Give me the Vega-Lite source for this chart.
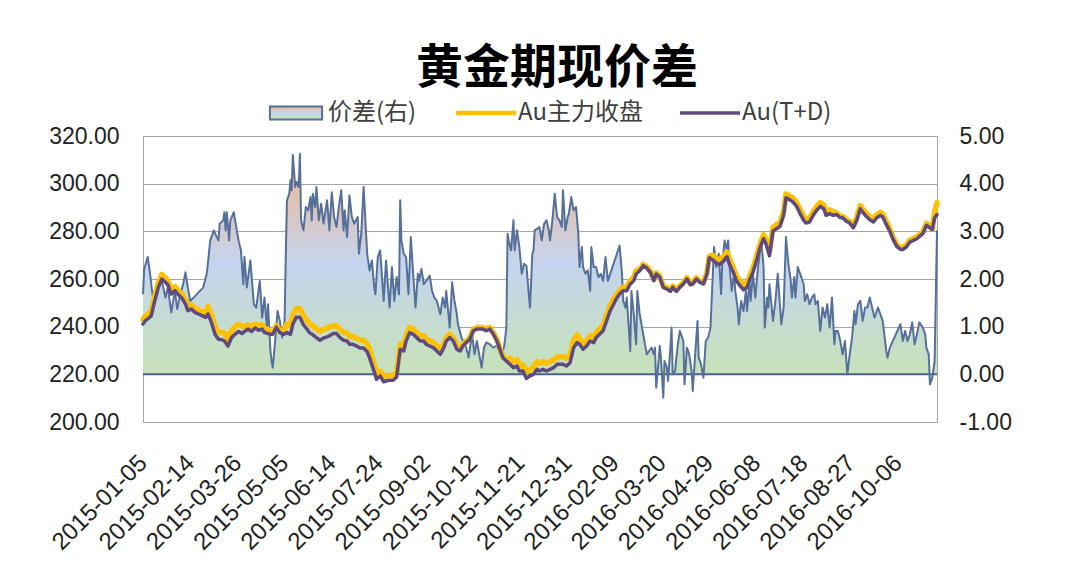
{
  "$schema": "https://vega.github.io/schema/vega-lite/v6.json",
  "autosize": {"type": "none"},
  "width": 794,
  "height": 286,
  "padding": {"left": 143, "top": 136, "right": 149, "bottom": 166},
  "background": "white",
  "config": {
    "view": {"stroke": "#a6a6a6", "strokeWidth": 1},
    "axis": {"labelFont": "Liberation Sans", "labelColor": "#222222", "labelFontSize": 23}
  },
  "title": {
    "text": "黄金期现价差",
    "font": "Noto Sans CJK SC",
    "fontSize": 47,
    "fontWeight": "bold",
    "color": "#000000",
    "anchor": "middle",
    "dx": 17,
    "offset": 8
  },
  "datasets": {
    "lines": [
      {"d":"2015-01-05","t":241.1,"f":243.0},{"d":"2015-01-07","t":242.5,"f":244.4},{"d":"2015-01-10","t":243.6,"f":245.5},{"d":"2015-01-12","t":244.6,"f":246.5},
      {"d":"2015-01-15","t":250.9,"f":252.8},{"d":"2015-01-18","t":256.5,"f":258.4},{"d":"2015-01-21","t":260.0,"f":261.9},{"d":"2015-01-24","t":258.6,"f":260.5},
      {"d":"2015-01-26","t":257.6,"f":259.3},{"d":"2015-01-29","t":253.7,"f":255.4},{"d":"2015-02-01","t":255.1,"f":256.8},{"d":"2015-02-04","t":253.4,"f":255.1},
      {"d":"2015-02-07","t":252.0,"f":253.7},{"d":"2015-02-10","t":249.5,"f":251.2},{"d":"2015-02-12","t":246.7,"f":248.4},{"d":"2015-02-15","t":247.4,"f":249.1},
      {"d":"2015-02-18","t":246.0,"f":247.7},{"d":"2015-02-21","t":245.3,"f":247.0},{"d":"2015-02-24","t":244.6,"f":246.3},{"d":"2015-02-27","t":243.9,"f":245.6},
      {"d":"2015-03-01","t":245.3,"f":248.4},{"d":"2015-03-04","t":241.8,"f":244.9},{"d":"2015-03-07","t":236.8,"f":239.9},{"d":"2015-03-10","t":234.7,"f":237.8},
      {"d":"2015-03-13","t":234.5,"f":237.6},{"d":"2015-03-15","t":234.0,"f":237.1},{"d":"2015-03-18","t":231.9,"f":235.0},{"d":"2015-03-21","t":235.4,"f":238.5},
      {"d":"2015-03-24","t":236.8,"f":239.9},{"d":"2015-03-27","t":238.0,"f":241.1},{"d":"2015-03-30","t":237.1,"f":240.2},{"d":"2015-04-01","t":238.0,"f":239.8},
      {"d":"2015-04-04","t":239.0,"f":240.8},{"d":"2015-04-07","t":238.0,"f":239.8},{"d":"2015-04-10","t":239.4,"f":241.2},{"d":"2015-04-13","t":238.5,"f":240.3},
      {"d":"2015-04-16","t":239.0,"f":240.8},{"d":"2015-04-18","t":237.5,"f":239.3},{"d":"2015-04-21","t":237.1,"f":238.9},{"d":"2015-04-23","t":236.8,"f":237.4},
      {"d":"2015-04-25","t":236.8,"f":237.4},{"d":"2015-04-28","t":239.7,"f":240.5},{"d":"2015-05-01","t":237.5,"f":238.3},{"d":"2015-05-04","t":236.8,"f":237.8},
      {"d":"2015-05-07","t":237.5,"f":241.2},{"d":"2015-05-10","t":236.8,"f":240.5},{"d":"2015-05-12","t":241.1,"f":244.8},{"d":"2015-05-15","t":243.9,"f":247.6},
      {"d":"2015-05-18","t":243.9,"f":247.6},{"d":"2015-05-21","t":240.8,"f":244.5},{"d":"2015-05-24","t":239.0,"f":242.7},{"d":"2015-05-26","t":237.5,"f":241.2},
      {"d":"2015-05-29","t":236.6,"f":240.3},{"d":"2015-06-01","t":235.4,"f":239.1},{"d":"2015-06-04","t":234.3,"f":238.0},{"d":"2015-06-07","t":235.2,"f":238.9},
      {"d":"2015-06-10","t":235.7,"f":239.4},{"d":"2015-06-12","t":236.1,"f":239.8},{"d":"2015-06-15","t":237.1,"f":240.4},{"d":"2015-06-18","t":237.1,"f":240.4},
      {"d":"2015-06-21","t":235.4,"f":238.7},{"d":"2015-06-24","t":234.3,"f":237.6},{"d":"2015-06-27","t":234.0,"f":237.3},{"d":"2015-06-29","t":232.6,"f":235.9},
      {"d":"2015-07-02","t":232.6,"f":235.9},{"d":"2015-07-05","t":231.9,"f":235.2},{"d":"2015-07-08","t":231.0,"f":234.3},{"d":"2015-07-11","t":231.0,"f":234.3},
      {"d":"2015-07-14","t":229.5,"f":232.8},{"d":"2015-07-16","t":227.0,"f":230.3},{"d":"2015-07-19","t":222.5,"f":225.8},{"d":"2015-07-22","t":217.9,"f":219.9},
      {"d":"2015-07-25","t":219.3,"f":221.3},{"d":"2015-07-28","t":216.9,"f":218.9},{"d":"2015-07-30","t":217.2,"f":219.2},{"d":"2015-08-02","t":217.5,"f":219.5},
      {"d":"2015-08-05","t":217.5,"f":219.5},{"d":"2015-08-08","t":218.9,"f":220.9},{"d":"2015-08-11","t":230.5,"f":232.7},{"d":"2015-08-14","t":229.8,"f":232.0},
      {"d":"2015-08-16","t":234.0,"f":236.2},{"d":"2015-08-19","t":237.5,"f":239.7},{"d":"2015-08-22","t":236.8,"f":239.0},{"d":"2015-08-25","t":235.4,"f":237.6},
      {"d":"2015-08-28","t":234.0,"f":236.2},{"d":"2015-08-31","t":234.0,"f":236.2},{"d":"2015-09-02","t":232.6,"f":234.8},{"d":"2015-09-05","t":231.9,"f":234.1},
      {"d":"2015-09-08","t":231.2,"f":233.4},{"d":"2015-09-11","t":229.8,"f":232.0},{"d":"2015-09-14","t":228.4,"f":229.8},{"d":"2015-09-17","t":231.2,"f":232.6},
      {"d":"2015-09-19","t":234.0,"f":235.4},{"d":"2015-09-22","t":235.4,"f":236.8},{"d":"2015-09-25","t":234.0,"f":235.4},{"d":"2015-09-28","t":230.5,"f":231.9},
      {"d":"2015-10-01","t":229.8,"f":231.2},{"d":"2015-10-03","t":231.9,"f":232.5},{"d":"2015-10-06","t":233.3,"f":233.9},{"d":"2015-10-09","t":234.7,"f":235.3},
      {"d":"2015-10-12","t":238.3,"f":238.9},{"d":"2015-10-15","t":239.0,"f":239.6},{"d":"2015-10-18","t":239.0,"f":239.6},{"d":"2015-10-20","t":239.0,"f":239.6},
      {"d":"2015-10-23","t":238.3,"f":238.9},{"d":"2015-10-26","t":239.0,"f":239.6},{"d":"2015-10-29","t":236.8,"f":237.4},{"d":"2015-11-01","t":234.0,"f":234.6},
      {"d":"2015-11-04","t":229.8,"f":230.4},{"d":"2015-11-06","t":227.0,"f":227.6},{"d":"2015-11-09","t":225.6,"f":226.2},{"d":"2015-11-12","t":224.2,"f":226.8},
      {"d":"2015-11-15","t":222.8,"f":225.4},{"d":"2015-11-18","t":223.5,"f":226.1},{"d":"2015-11-20","t":221.4,"f":224.0},{"d":"2015-11-23","t":221.4,"f":224.0},
      {"d":"2015-11-26","t":218.3,"f":220.9},{"d":"2015-11-29","t":219.3,"f":221.9},{"d":"2015-12-02","t":220.0,"f":223.2},{"d":"2015-12-05","t":222.1,"f":225.3},
      {"d":"2015-12-07","t":221.4,"f":224.6},{"d":"2015-12-10","t":222.1,"f":225.3},{"d":"2015-12-13","t":221.4,"f":224.6},{"d":"2015-12-16","t":222.1,"f":225.3},
      {"d":"2015-12-19","t":222.8,"f":226.0},{"d":"2015-12-22","t":224.2,"f":227.4},{"d":"2015-12-24","t":224.2,"f":227.4},{"d":"2015-12-27","t":224.2,"f":227.4},
      {"d":"2015-12-30","t":223.5,"f":226.7},{"d":"2016-01-02","t":224.9,"f":228.1},{"d":"2016-01-05","t":231.2,"f":234.4},{"d":"2016-01-08","t":233.3,"f":236.5},
      {"d":"2016-01-10","t":232.6,"f":234.8},{"d":"2016-01-13","t":230.5,"f":232.7},{"d":"2016-01-16","t":231.9,"f":234.1},{"d":"2016-01-19","t":234.0,"f":236.2},
      {"d":"2016-01-22","t":233.3,"f":235.5},{"d":"2016-01-24","t":235.4,"f":237.6},{"d":"2016-01-27","t":236.8,"f":239.0},{"d":"2016-01-30","t":238.3,"f":240.5},
      {"d":"2016-02-02","t":242.5,"f":244.7},{"d":"2016-02-05","t":246.7,"f":248.9},{"d":"2016-02-08","t":249.5,"f":251.7},{"d":"2016-02-10","t":251.6,"f":253.0},
      {"d":"2016-02-13","t":253.7,"f":255.1},{"d":"2016-02-16","t":255.1,"f":256.5},{"d":"2016-02-19","t":255.1,"f":256.5},{"d":"2016-02-22","t":257.9,"f":259.3},
      {"d":"2016-02-25","t":259.3,"f":260.7},{"d":"2016-02-27","t":262.1,"f":263.5},{"d":"2016-03-01","t":263.5,"f":264.0},{"d":"2016-03-04","t":265.6,"f":266.1},
      {"d":"2016-03-07","t":264.6,"f":265.1},{"d":"2016-03-10","t":262.8,"f":263.3},{"d":"2016-03-13","t":259.3,"f":259.8},{"d":"2016-03-15","t":262.1,"f":262.6},
      {"d":"2016-03-18","t":260.7,"f":261.2},{"d":"2016-03-21","t":256.5,"f":257.0},{"d":"2016-03-24","t":255.8,"f":256.3},{"d":"2016-03-27","t":254.8,"f":255.3},
      {"d":"2016-03-29","t":256.5,"f":257.0},{"d":"2016-04-01","t":254.8,"f":255.3},{"d":"2016-04-04","t":256.5,"f":257.0},{"d":"2016-04-07","t":257.9,"f":258.4},
      {"d":"2016-04-10","t":260.0,"f":260.5},{"d":"2016-04-13","t":257.6,"f":258.1},{"d":"2016-04-15","t":257.9,"f":258.4},{"d":"2016-04-18","t":260.0,"f":260.5},
      {"d":"2016-04-21","t":258.6,"f":259.1},{"d":"2016-04-24","t":257.9,"f":258.4},{"d":"2016-04-27","t":262.1,"f":262.6},{"d":"2016-04-29","t":268.9,"f":269.5},
      {"d":"2016-05-02","t":268.0,"f":270.0},{"d":"2016-05-05","t":266.6,"f":268.6},{"d":"2016-05-08","t":266.1,"f":268.1},{"d":"2016-05-11","t":267.5,"f":269.5},
      {"d":"2016-05-14","t":269.4,"f":271.4},{"d":"2016-05-16","t":266.3,"f":268.3},{"d":"2016-05-19","t":263.2,"f":265.2},{"d":"2016-05-22","t":259.3,"f":261.3},
      {"d":"2016-05-25","t":257.2,"f":259.2},{"d":"2016-05-28","t":255.4,"f":257.4},{"d":"2016-05-31","t":256.5,"f":258.5},{"d":"2016-06-02","t":259.3,"f":260.9},
      {"d":"2016-06-05","t":262.8,"f":264.4},{"d":"2016-06-08","t":267.7,"f":269.3},{"d":"2016-06-11","t":273.1,"f":274.7},{"d":"2016-06-14","t":276.9,"f":278.5},
      {"d":"2016-06-16","t":274.8,"f":276.4},{"d":"2016-06-19","t":269.8,"f":271.4},{"d":"2016-06-22","t":280.1,"f":281.7},{"d":"2016-06-25","t":281.1,"f":282.7},
      {"d":"2016-06-28","t":282.1,"f":283.7},{"d":"2016-07-01","t":286.7,"f":288.3},{"d":"2016-07-03","t":294.1,"f":295.7},{"d":"2016-07-06","t":293.3,"f":294.9},
      {"d":"2016-07-09","t":292.3,"f":293.9},{"d":"2016-07-12","t":290.5,"f":292.1},{"d":"2016-07-15","t":287.4,"f":289.0},{"d":"2016-07-18","t":284.6,"f":286.2},
      {"d":"2016-07-20","t":283.5,"f":285.1},{"d":"2016-07-23","t":283.9,"f":285.5},{"d":"2016-07-26","t":286.7,"f":288.3},{"d":"2016-07-29","t":288.8,"f":290.4},
      {"d":"2016-08-01","t":290.5,"f":292.1},{"d":"2016-08-04","t":289.5,"f":291.1},{"d":"2016-08-06","t":286.7,"f":288.3},{"d":"2016-08-09","t":287.4,"f":289.0},
      {"d":"2016-08-12","t":286.7,"f":288.3},{"d":"2016-08-15","t":287.1,"f":287.7},{"d":"2016-08-18","t":285.7,"f":286.3},{"d":"2016-08-20","t":285.7,"f":286.3},
      {"d":"2016-08-23","t":284.3,"f":284.9},{"d":"2016-08-26","t":283.5,"f":284.1},{"d":"2016-08-29","t":281.5,"f":282.1},{"d":"2016-09-01","t":284.6,"f":285.9},
      {"d":"2016-09-04","t":289.5,"f":290.8},{"d":"2016-09-06","t":288.1,"f":289.4},{"d":"2016-09-09","t":286.3,"f":287.6},{"d":"2016-09-12","t":284.9,"f":286.2},
      {"d":"2016-09-15","t":283.9,"f":285.2},{"d":"2016-09-18","t":285.7,"f":287.0},{"d":"2016-09-21","t":286.7,"f":288.0},{"d":"2016-09-23","t":286.0,"f":287.3},
      {"d":"2016-09-26","t":282.9,"f":284.2},{"d":"2016-09-29","t":280.1,"f":280.9},{"d":"2016-10-02","t":276.4,"f":277.2},{"d":"2016-10-05","t":273.6,"f":274.4},
      {"d":"2016-10-08","t":272.4,"f":273.2},{"d":"2016-10-10","t":272.4,"f":273.2},{"d":"2016-10-13","t":273.4,"f":274.2},{"d":"2016-10-16","t":275.5,"f":276.3},
      {"d":"2016-10-19","t":276.2,"f":277.0},{"d":"2016-10-22","t":276.9,"f":277.7},{"d":"2016-10-24","t":277.8,"f":278.6},{"d":"2016-10-27","t":279.0,"f":279.8},
      {"d":"2016-10-30","t":282.5,"f":283.3},{"d":"2016-11-02","t":281.5,"f":281.8},{"d":"2016-11-04","t":280.7,"f":281.0},{"d":"2016-11-06","t":285.7,"f":288.0},
      {"d":"2016-11-08","t":287.0,"f":292.0}
    ],
    "spread": [
      {"d":"2015-01-05","s":1.68},{"d":"2015-01-06","s":2.21},{"d":"2015-01-09","s":2.46},{"d":"2015-01-11","s":2.11},{"d":"2015-01-13","s":1.68},
      {"d":"2015-01-15","s":1.54},{"d":"2015-01-18","s":1.82},{"d":"2015-01-21","s":1.96},{"d":"2015-01-24","s":1.61},{"d":"2015-01-26","s":1.82},
      {"d":"2015-01-29","s":1.30},{"d":"2015-02-01","s":1.75},{"d":"2015-02-03","s":1.37},{"d":"2015-02-05","s":1.61},{"d":"2015-02-08","s":1.89},
      {"d":"2015-02-10","s":2.14},{"d":"2015-02-12","s":1.82},{"d":"2015-02-14","s":1.54},{"d":"2015-02-17","s":1.61},{"d":"2015-02-21","s":1.72},
      {"d":"2015-02-25","s":1.82},{"d":"2015-02-28","s":2.11},{"d":"2015-03-01","s":2.32},{"d":"2015-03-03","s":2.81},{"d":"2015-03-06","s":3.02},
      {"d":"2015-03-08","s":2.91},{"d":"2015-03-10","s":2.81},{"d":"2015-03-11","s":3.16},{"d":"2015-03-14","s":3.23},{"d":"2015-03-15","s":3.40},
      {"d":"2015-03-16","s":3.02},{"d":"2015-03-17","s":3.40},{"d":"2015-03-19","s":2.81},{"d":"2015-03-20","s":3.23},{"d":"2015-03-23","s":3.40},
      {"d":"2015-03-25","s":3.09},{"d":"2015-03-27","s":2.81},{"d":"2015-03-29","s":2.60},{"d":"2015-03-31","s":1.89},{"d":"2015-04-01","s":2.46},
      {"d":"2015-04-03","s":1.82},{"d":"2015-04-06","s":2.39},{"d":"2015-04-09","s":1.47},{"d":"2015-04-11","s":1.40},{"d":"2015-04-14","s":1.96},
      {"d":"2015-04-16","s":1.19},{"d":"2015-04-18","s":1.61},{"d":"2015-04-20","s":0.98},{"d":"2015-04-21","s":1.47},{"d":"2015-04-23","s":0.49},
      {"d":"2015-04-24","s":0.28},{"d":"2015-04-25","s":0.14},{"d":"2015-04-28","s":0.98},{"d":"2015-04-29","s":1.33},{"d":"2015-05-01","s":1.12},
      {"d":"2015-05-03","s":0.77},{"d":"2015-05-05","s":1.12},{"d":"2015-05-06","s":2.46},{"d":"2015-05-07","s":3.65},{"d":"2015-05-09","s":3.79},
      {"d":"2015-05-10","s":4.07},{"d":"2015-05-11","s":3.86},{"d":"2015-05-12","s":4.60},{"d":"2015-05-14","s":3.93},{"d":"2015-05-15","s":4.04},
      {"d":"2015-05-17","s":3.93},{"d":"2015-05-18","s":4.63},{"d":"2015-05-19","s":3.23},{"d":"2015-05-21","s":3.02},{"d":"2015-05-23","s":3.51},
      {"d":"2015-05-25","s":3.44},{"d":"2015-05-27","s":3.72},{"d":"2015-05-28","s":3.23},{"d":"2015-05-29","s":3.79},{"d":"2015-05-31","s":3.51},
      {"d":"2015-06-01","s":3.93},{"d":"2015-06-03","s":3.23},{"d":"2015-06-05","s":3.58},{"d":"2015-06-07","s":3.16},{"d":"2015-06-10","s":3.65},
      {"d":"2015-06-12","s":3.02},{"d":"2015-06-14","s":3.82},{"d":"2015-06-16","s":3.30},{"d":"2015-06-18","s":3.09},{"d":"2015-06-20","s":3.51},
      {"d":"2015-06-22","s":3.86},{"d":"2015-06-24","s":3.02},{"d":"2015-06-25","s":3.44},{"d":"2015-06-27","s":2.88},{"d":"2015-06-29","s":3.75},
      {"d":"2015-07-01","s":3.30},{"d":"2015-07-03","s":3.16},{"d":"2015-07-06","s":3.30},{"d":"2015-07-07","s":2.53},{"d":"2015-07-09","s":2.95},
      {"d":"2015-07-11","s":3.93},{"d":"2015-07-14","s":2.53},{"d":"2015-07-16","s":2.18},{"d":"2015-07-18","s":2.39},{"d":"2015-07-20","s":1.82},
      {"d":"2015-07-21","s":1.68},{"d":"2015-07-23","s":2.46},{"d":"2015-07-25","s":2.60},{"d":"2015-07-28","s":1.54},{"d":"2015-07-30","s":2.39},
      {"d":"2015-08-02","s":1.40},{"d":"2015-08-04","s":2.25},{"d":"2015-08-06","s":1.54},{"d":"2015-08-08","s":2.04},{"d":"2015-08-10","s":1.68},
      {"d":"2015-08-11","s":3.65},{"d":"2015-08-12","s":2.81},{"d":"2015-08-14","s":2.53},{"d":"2015-08-16","s":2.46},{"d":"2015-08-18","s":1.68},
      {"d":"2015-08-20","s":2.88},{"d":"2015-08-22","s":2.11},{"d":"2015-08-24","s":1.40},{"d":"2015-08-26","s":2.11},{"d":"2015-08-27","s":1.96},
      {"d":"2015-08-29","s":2.21},{"d":"2015-08-31","s":1.89},{"d":"2015-09-02","s":1.96},{"d":"2015-09-05","s":2.07},{"d":"2015-09-07","s":1.75},
      {"d":"2015-09-09","s":1.61},{"d":"2015-09-11","s":1.54},{"d":"2015-09-14","s":1.26},{"d":"2015-09-16","s":1.61},{"d":"2015-09-18","s":1.40},
      {"d":"2015-09-19","s":1.75},{"d":"2015-09-22","s":0.98},{"d":"2015-09-24","s":1.93},{"d":"2015-09-26","s":1.54},{"d":"2015-09-28","s":1.26},
      {"d":"2015-09-29","s":1.05},{"d":"2015-10-02","s":0.77},{"d":"2015-10-06","s":0.56},{"d":"2015-10-08","s":0.35},{"d":"2015-10-10","s":0.70},
      {"d":"2015-10-11","s":0.84},{"d":"2015-10-13","s":0.42},{"d":"2015-10-15","s":0.70},{"d":"2015-10-18","s":0.28},{"d":"2015-10-19","s":0.14},
      {"d":"2015-10-21","s":0.56},{"d":"2015-10-23","s":0.67},{"d":"2015-10-26","s":0.63},{"d":"2015-10-29","s":0.56},{"d":"2015-11-01","s":0.60},
      {"d":"2015-11-04","s":0.42},{"d":"2015-11-07","s":0.56},{"d":"2015-11-09","s":0.98},{"d":"2015-11-10","s":2.95},{"d":"2015-11-11","s":2.81},
      {"d":"2015-11-13","s":2.60},{"d":"2015-11-15","s":3.23},{"d":"2015-11-16","s":2.60},{"d":"2015-11-18","s":3.02},{"d":"2015-11-20","s":2.67},
      {"d":"2015-11-22","s":2.11},{"d":"2015-11-24","s":2.32},{"d":"2015-11-26","s":2.28},{"d":"2015-11-28","s":1.68},{"d":"2015-11-29","s":1.40},
      {"d":"2015-12-01","s":2.53},{"d":"2015-12-02","s":2.60},{"d":"2015-12-03","s":3.02},{"d":"2015-12-05","s":3.05},{"d":"2015-12-07","s":3.09},
      {"d":"2015-12-09","s":2.81},{"d":"2015-12-11","s":3.16},{"d":"2015-12-13","s":3.23},{"d":"2015-12-15","s":3.02},{"d":"2015-12-16","s":2.81},
      {"d":"2015-12-18","s":3.23},{"d":"2015-12-20","s":3.79},{"d":"2015-12-22","s":3.30},{"d":"2015-12-24","s":3.23},{"d":"2015-12-26","s":3.09},
      {"d":"2015-12-27","s":3.86},{"d":"2015-12-29","s":3.02},{"d":"2015-12-31","s":3.30},{"d":"2016-01-01","s":3.37},{"d":"2016-01-03","s":3.72},
      {"d":"2016-01-05","s":3.44},{"d":"2016-01-07","s":3.51},{"d":"2016-01-09","s":2.95},{"d":"2016-01-10","s":2.25},{"d":"2016-01-12","s":2.67},
      {"d":"2016-01-13","s":2.25},{"d":"2016-01-15","s":2.11},{"d":"2016-01-17","s":2.18},{"d":"2016-01-19","s":1.75},{"d":"2016-01-20","s":2.67},
      {"d":"2016-01-22","s":2.25},{"d":"2016-01-24","s":2.25},{"d":"2016-01-26","s":2.04},{"d":"2016-01-28","s":2.11},{"d":"2016-01-30","s":1.96},
      {"d":"2016-02-01","s":2.46},{"d":"2016-02-03","s":1.96},{"d":"2016-02-13","s":2.70},{"d":"2016-02-15","s":2.11},{"d":"2016-02-16","s":1.54},
      {"d":"2016-02-18","s":1.40},{"d":"2016-02-19","s":1.61},{"d":"2016-02-20","s":1.26},{"d":"2016-02-22","s":0.49},{"d":"2016-02-23","s":1.75},
      {"d":"2016-02-25","s":1.26},{"d":"2016-02-27","s":0.63},{"d":"2016-02-28","s":1.75},{"d":"2016-03-01","s":1.26},{"d":"2016-03-03","s":0.98},
      {"d":"2016-03-04","s":0.84},{"d":"2016-03-05","s":0.70},{"d":"2016-03-07","s":0.42},{"d":"2016-03-09","s":0.49},{"d":"2016-03-11","s":0.56},
      {"d":"2016-03-13","s":0.42},{"d":"2016-03-14","s":0.56},{"d":"2016-03-15","s":-0.28},{"d":"2016-03-17","s":0.28},{"d":"2016-03-18","s":0.60},
      {"d":"2016-03-19","s":0.35},{"d":"2016-03-21","s":-0.49},{"d":"2016-03-22","s":0.28},{"d":"2016-03-24","s":0.14},{"d":"2016-03-25","s":-0.14},
      {"d":"2016-03-27","s":0.56},{"d":"2016-03-28","s":0.98},{"d":"2016-03-29","s":0.00},{"d":"2016-03-31","s":0.07},{"d":"2016-04-02","s":0.56},
      {"d":"2016-04-04","s":0.91},{"d":"2016-04-05","s":0.84},{"d":"2016-04-07","s":0.70},{"d":"2016-04-08","s":-0.21},{"d":"2016-04-10","s":0.56},
      {"d":"2016-04-12","s":0.42},{"d":"2016-04-14","s":0.07},{"d":"2016-04-15","s":-0.35},{"d":"2016-04-17","s":0.42},{"d":"2016-04-19","s":1.12},
      {"d":"2016-04-20","s":0.35},{"d":"2016-04-22","s":0.21},{"d":"2016-04-24","s":-0.07},{"d":"2016-04-26","s":0.70},{"d":"2016-04-28","s":0.77},
      {"d":"2016-04-30","s":0.98},{"d":"2016-05-02","s":2.11},{"d":"2016-05-03","s":2.67},{"d":"2016-05-05","s":2.25},{"d":"2016-05-07","s":2.53},
      {"d":"2016-05-09","s":1.68},{"d":"2016-05-10","s":2.32},{"d":"2016-05-12","s":2.81},{"d":"2016-05-14","s":2.60},{"d":"2016-05-15","s":2.81},
      {"d":"2016-05-16","s":2.32},{"d":"2016-05-18","s":1.75},{"d":"2016-05-20","s":2.11},{"d":"2016-05-21","s":1.75},{"d":"2016-05-23","s":1.40},
      {"d":"2016-05-24","s":1.05},{"d":"2016-05-26","s":1.54},{"d":"2016-05-28","s":1.33},{"d":"2016-05-30","s":1.75},{"d":"2016-05-31","s":1.33},
      {"d":"2016-06-02","s":1.96},{"d":"2016-06-03","s":1.54},{"d":"2016-06-05","s":2.11},{"d":"2016-06-07","s":1.61},{"d":"2016-06-09","s":2.18},
      {"d":"2016-06-10","s":2.39},{"d":"2016-06-12","s":2.81},{"d":"2016-06-14","s":2.25},{"d":"2016-06-15","s":0.98},{"d":"2016-06-17","s":1.61},
      {"d":"2016-06-18","s":1.40},{"d":"2016-06-19","s":1.89},{"d":"2016-06-22","s":1.12},{"d":"2016-06-24","s":1.54},{"d":"2016-06-26","s":2.11},
      {"d":"2016-06-27","s":1.75},{"d":"2016-06-29","s":1.05},{"d":"2016-07-01","s":1.40},{"d":"2016-07-03","s":2.88},{"d":"2016-07-05","s":2.32},
      {"d":"2016-07-07","s":1.97},{"d":"2016-07-08","s":1.61},{"d":"2016-07-10","s":2.04},{"d":"2016-07-11","s":1.61},{"d":"2016-07-13","s":2.25},
      {"d":"2016-07-15","s":2.11},{"d":"2016-07-18","s":1.89},{"d":"2016-07-19","s":1.54},{"d":"2016-07-21","s":1.68},{"d":"2016-07-23","s":1.47},
      {"d":"2016-07-25","s":1.61},{"d":"2016-07-27","s":1.68},{"d":"2016-07-28","s":1.47},{"d":"2016-07-30","s":1.54},{"d":"2016-08-01","s":0.91},
      {"d":"2016-08-03","s":1.40},{"d":"2016-08-05","s":1.19},{"d":"2016-08-07","s":1.47},{"d":"2016-08-09","s":0.98},{"d":"2016-08-11","s":1.61},
      {"d":"2016-08-13","s":0.63},{"d":"2016-08-14","s":0.91},{"d":"2016-08-16","s":0.91},{"d":"2016-08-18","s":0.70},{"d":"2016-08-20","s":0.42},
      {"d":"2016-08-22","s":0.70},{"d":"2016-08-24","s":0.00},{"d":"2016-08-26","s":0.42},{"d":"2016-08-28","s":0.77},{"d":"2016-08-30","s":1.33},
      {"d":"2016-08-31","s":1.05},{"d":"2016-09-02","s":1.47},{"d":"2016-09-04","s":1.54},{"d":"2016-09-06","s":1.12},{"d":"2016-09-08","s":1.40},
      {"d":"2016-09-10","s":1.40},{"d":"2016-09-12","s":1.61},{"d":"2016-09-14","s":1.40},{"d":"2016-09-16","s":1.19},{"d":"2016-09-17","s":1.26},
      {"d":"2016-09-19","s":1.40},{"d":"2016-09-21","s":1.26},{"d":"2016-09-23","s":1.12},{"d":"2016-09-26","s":0.49},{"d":"2016-09-27","s":0.35},
      {"d":"2016-09-29","s":0.56},{"d":"2016-10-08","s":1.05},{"d":"2016-10-10","s":0.70},{"d":"2016-10-12","s":0.91},{"d":"2016-10-14","s":0.70},
      {"d":"2016-10-16","s":0.84},{"d":"2016-10-18","s":1.09},{"d":"2016-10-20","s":0.63},{"d":"2016-10-22","s":0.84},{"d":"2016-10-24","s":1.09},
      {"d":"2016-10-27","s":0.98},{"d":"2016-10-29","s":0.84},{"d":"2016-10-30","s":0.56},{"d":"2016-11-01","s":0.42},{"d":"2016-11-02","s":-0.21},
      {"d":"2016-11-04","s":-0.07},{"d":"2016-11-06","s":0.28},{"d":"2016-11-08","s":3.02}
    ],
    "base": [{"b": 0}]
  },
  "layer": [
    {
      "layer": [
        {
          "data": {"name": "spread"},
          "mark": {
            "type": "area",
            "interpolate": "linear",
            "fill": {
              "gradient": "linear", "x1": 0, "y1": 0, "x2": 0, "y2": 1,
              "stops": [
                {"offset": 0, "color": "#f0b68c"},
                {"offset": 0.45, "color": "#c5d4ee"},
                {"offset": 0.9, "color": "#c6e2b8"},
                {"offset": 1, "color": "#c6e2b8"}
              ]
            }
          },
          "encoding": {
            "x": {"field": "d", "type": "temporal", "scale": {"type": "utc", "domain": [{"year": 2015, "month": 1, "date": 5, "utc": true}, {"year": 2016, "month": 11, "date": 8, "utc": true}]},
              "axis": {"title": null, "format": "%Y-%m-%d", "labelAngle": -45, "labelAlign": "right", "labelBaseline": "middle", "labelPadding": 37, "labelOverlap": false, "ticks": false, "domain": false, "grid": false, "labelFontSize": 24,
                "values": [
                  {"year": 2015, "month": 1, "date": 5, "utc": true}, {"year": 2015, "month": 2, "date": 14, "utc": true}, {"year": 2015, "month": 3, "date": 26, "utc": true},
                  {"year": 2015, "month": 5, "date": 5, "utc": true}, {"year": 2015, "month": 6, "date": 14, "utc": true}, {"year": 2015, "month": 7, "date": 24, "utc": true},
                  {"year": 2015, "month": 9, "date": 2, "utc": true}, {"year": 2015, "month": 10, "date": 12, "utc": true}, {"year": 2015, "month": 11, "date": 21, "utc": true},
                  {"year": 2015, "month": 12, "date": 31, "utc": true}, {"year": 2016, "month": 2, "date": 9, "utc": true}, {"year": 2016, "month": 3, "date": 20, "utc": true},
                  {"year": 2016, "month": 4, "date": 29, "utc": true}, {"year": 2016, "month": 6, "date": 8, "utc": true}, {"year": 2016, "month": 7, "date": 18, "utc": true},
                  {"year": 2016, "month": 8, "date": 27, "utc": true}, {"year": 2016, "month": 10, "date": 6, "utc": true}
                ]}},
            "y": {"field": "s", "type": "quantitative", "scale": {"domain": [-1, 5], "nice": false, "zero": false},
              "axis": {"orient": "right", "title": null, "values": [-1, 0, 1, 2, 3, 4, 5], "format": ".2f", "labelExpr": "replace(datum.label, '\u2212', '-')", "grid": false, "ticks": false, "domain": false, "labelPadding": 22}},
            "y2": {"datum": 0}
          }
        },
        {
          "data": {"name": "base"},
          "mark": {"type": "rule", "color": "#4a5f8c", "strokeWidth": 2},
          "encoding": {"y": {"field": "b", "type": "quantitative"}}
        },
        {
          "data": {"name": "spread"},
          "mark": {"type": "line", "strokeWidth": 2, "strokeJoin": "round", "interpolate": "linear"},
          "encoding": {
            "x": {"field": "d", "type": "temporal"},
            "y": {"field": "s", "type": "quantitative"},
            "color": {"datum": "价差(右)", "type": "nominal"}
          }
        }
      ]
    },
    {
      "layer": [
        {
          "data": {"name": "lines"},
          "mark": {"type": "line", "strokeWidth": 5.5, "strokeJoin": "round", "strokeCap": "round"},
          "encoding": {
            "x": {"field": "d", "type": "temporal"},
            "y": {"field": "f", "type": "quantitative", "scale": {"domain": [200, 320], "nice": false, "zero": false},
              "axis": {"orient": "left", "title": null, "values": [200, 220, 240, 260, 280, 300, 320], "format": ".2f", "grid": true, "gridColor": "#a6a6a6", "gridWidth": 1, "ticks": false, "domain": false, "labelPadding": 24}},
            "color": {"datum": "Au主力收盘", "type": "nominal",
              "scale": {"domain": ["价差(右)", "Au主力收盘", "Au(T+D)"], "range": ["#56709c", "#ffc000", "#5f4a7d"]},
              "legend": {
                "orient": "none", "legendX": 141, "legendY": -35, "direction": "horizontal", "title": null,
                "symbolType": "stroke", "symbolSize": 3600, "symbolStrokeWidth": 4,
                "labelFont": "Noto Sans CJK SC", "labelFontSize": 24, "labelColor": "#404040", "labelOffset": 20, "columnPadding": 30,
                "encode": {
                  "symbols": {
                    "update": {
                      "shape": {"signal": "datum.value === '价差(右)' ? 'M-0.87,-0.22H0.87V0.22H-0.87Z' : 'stroke'"},
                      "fill": {"signal": "datum.value === '价差(右)' ? {gradient: 'linear', x1: 0, y1: 0, x2: 0, y2: 1, stops: [{offset: 0, color: '#f0b68c'}, {offset: 0.5, color: '#c5d4ee'}, {offset: 1, color: '#c6e2b8'}]} : 'transparent'"},
                      "strokeWidth": {"signal": "datum.value === '价差(右)' ? 2 : datum.value === 'Au(T+D)' ? 3.5 : 4.5"}
                    }
                  }
                }
              }}
          }
        },
        {
          "data": {"name": "lines"},
          "mark": {"type": "line", "strokeWidth": 3.5, "strokeJoin": "round", "strokeCap": "round"},
          "encoding": {
            "x": {"field": "d", "type": "temporal"},
            "y": {"field": "t", "type": "quantitative"},
            "color": {"datum": "Au(T+D)", "type": "nominal"}
          }
        }
      ]
    }
  ],
  "resolve": {"scale": {"y": "independent"}, "axis": {"y": "independent"}}
}
